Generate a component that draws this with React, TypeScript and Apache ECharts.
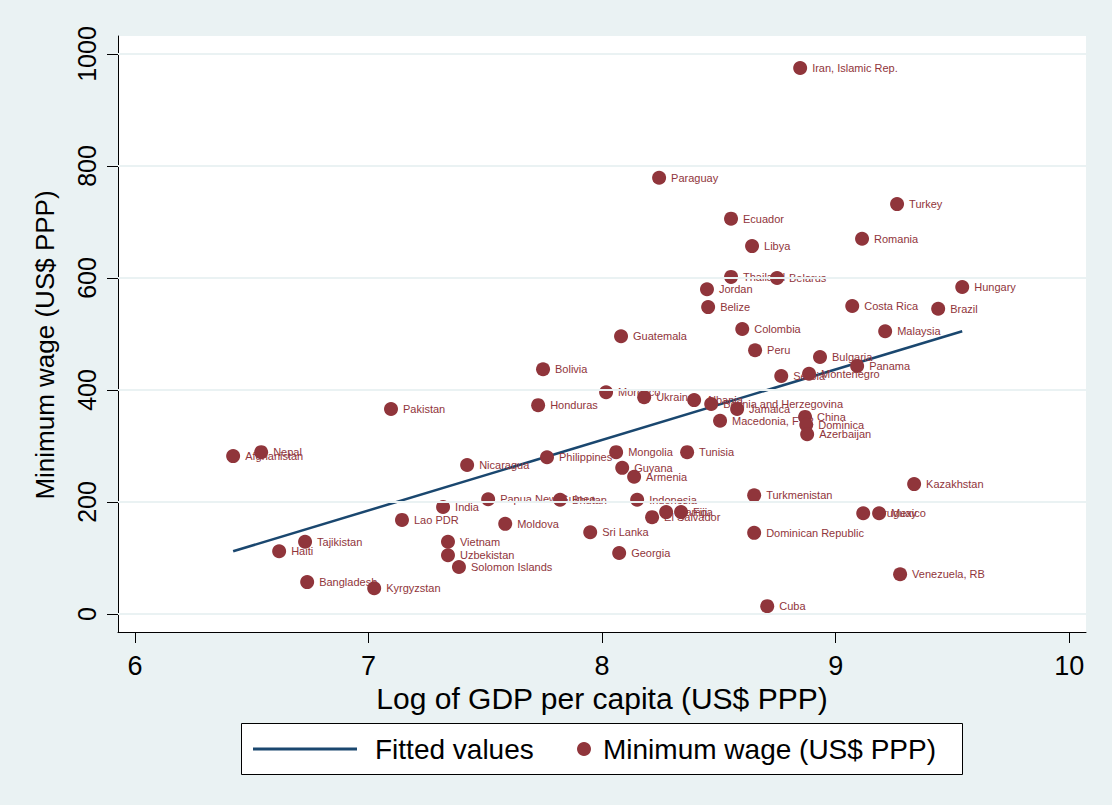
import React, { useEffect, useRef } from "react";
import * as echarts from "echarts";

// ---- Data ----
const countries = [
  "Iran, Islamic Rep.", "Paraguay", "Turkey", "Ecuador", "Romania", "Libya",
  "Thailand", "Belarus", "Jordan", "Hungary", "Belize", "Costa Rica", "Brazil",
  "Colombia", "Malaysia", "Guatemala", "Peru", "Bulgaria", "Panama", "Bolivia",
  "Serbia", "Montenegro", "Pakistan", "Morocco", "Ukraine", "Honduras", "Albania",
  "Bosnia and Herzegovina", "Jamaica", "Macedonia, FYR", "China", "Dominica",
  "Azerbaijan", "Afghanistan", "Nepal", "Nicaragua", "Philippines", "Mongolia",
  "Tunisia", "Guyana", "Armenia", "Kazakhstan", "Turkmenistan", "Papua New Guinea",
  "Bhutan", "Indonesia", "India", "Samoa", "Fiji", "El Salvador", "Uruguay",
  "Mexico", "Lao PDR", "Moldova", "Sri Lanka", "Dominican Republic", "Tajikistan",
  "Vietnam", "Haiti", "Uzbekistan", "Georgia", "Solomon Islands", "Venezuela, RB",
  "Bangladesh", "Kyrgyzstan", "Cuba",
];

const logGdp = [
  8.848, 8.244, 9.263, 8.552, 9.113, 8.642,
  8.552, 8.749, 8.449, 9.542, 8.454, 9.071, 9.439,
  8.600, 9.212, 8.081, 8.655, 8.933, 9.092, 7.747,
  8.767, 8.886, 7.096, 8.017, 8.180, 7.726, 8.394,
  8.467, 8.578, 8.505, 8.869, 8.874,
  8.878, 6.420, 6.540, 7.422, 7.764, 8.060,
  8.364, 8.086, 8.137, 9.336, 8.651, 7.512,
  7.820, 8.150, 7.319, 8.274, 8.338, 8.214, 9.118,
  9.186, 7.143, 7.585, 7.949, 8.651, 6.728,
  7.340, 6.617, 7.340, 8.073, 7.387, 9.276,
  6.737, 7.024, 8.707,
];

const minWage = [
  975, 779, 732, 706, 670, 657,
  602, 600, 580, 584, 548, 550, 545,
  509, 505, 496, 471, 459, 443, 437,
  425, 429, 366, 396, 387, 373, 382,
  375, 366, 345, 352, 338,
  321, 282, 289, 266, 280, 289,
  289, 261, 245, 232, 212, 205,
  204, 204, 191, 182, 182, 173, 180,
  180, 168, 161, 146, 145, 129,
  129, 112, 105, 109, 84, 71,
  57, 46, 14,
];

const fittedX = [6.42, 9.542];
const fittedY = [112, 505];

const xTicks = [6, 7, 8, 9, 10];
const yTicks = [0, 200, 400, 600, 800, 1000];

const seriesNames = ["Fitted values", "Minimum wage (US$ PPP)"];
const xTitle = "Log of GDP per capita (US$ PPP)";
const yTitle = "Minimum wage (US$ PPP)";

const FONT = "'Liberation Sans', Arial, Helvetica, sans-serif";
const MAROON = "#90353b";
const NAVY = "#1a476f";
const BG = "#eaf2f3";

export default function App() {
  const ref = useRef<HTMLDivElement>(null);

  useEffect(() => {
    if (!ref.current) return;
    const chart = echarts.init(ref.current, undefined, { renderer: "svg" });

    const scatterData = countries.map((name, i) => ({
      name,
      value: [logGdp[i], minWage[i]],
    }));
    const fittedData = fittedX.map((x, i) => [x, fittedY[i]]);

    chart.setOption({
      animation: false,
      backgroundColor: BG,
      textStyle: { fontFamily: FONT },
      grid: {
        left: 118,
        right: 26,
        top: 36,
        bottom: 173,
        show: true,
        backgroundColor: "#ffffff",
        borderWidth: 0,
        containLabel: false,
      },
      xAxis: {
        type: "value",
        min: 5.927,
        max: 10.072,
        name: xTitle,
        nameLocation: "middle",
        nameGap: 37,
        nameTextStyle: { fontSize: 30, color: "#000", fontFamily: FONT },
        axisLine: { show: true, onZero: false, lineStyle: { color: "#000", width: 1 } },
        axisTick: { show: true, length: 11, customValues: xTicks, lineStyle: { color: "#000" } },
        axisLabel: {
          customValues: xTicks,
          formatter: (v: number) => String(v),
          fontSize: 27,
          color: "#000",
          margin: 20,
          fontFamily: FONT,
        },
        splitLine: { show: false },
      },
      yAxis: {
        type: "value",
        min: -32.1,
        max: 1032.1,
        name: yTitle,
        nameLocation: "middle",
        nameGap: 60,
        nameTextStyle: {
          fontSize: 26,
          color: "#000",
          fontFamily: FONT,
          padding: [0, 22, 0, 0],
        },
        axisLine: { show: true, onZero: false, lineStyle: { color: "#000", width: 1 } },
        axisTick: { show: true, length: 11, customValues: yTicks, lineStyle: { color: "#000" } },
        axisLabel: {
          customValues: yTicks,
          formatter: (v: number) => String(v),
          rotate: 90,
          fontSize: 25,
          color: "#000",
          margin: 19,
          fontFamily: FONT,
        },
        splitLine: { show: false },
      },
      legend: [
        {
          data: [{ name: seriesNames[0], icon: "rect", itemStyle: { color: NAVY } }],
          left: 253,
          top: 733,
          padding: 0,
          itemWidth: 104,
          itemHeight: 3,
          textStyle: { fontSize: 28, color: "#000", fontFamily: FONT, padding: [0, 0, 0, 13], lineHeight: 32 },
        },
        {
          data: [{ name: seriesNames[1], icon: "circle" }],
          left: 577,
          top: 733,
          padding: 0,
          itemWidth: 14,
          itemHeight: 14,
          textStyle: { fontSize: 28, color: "#000", fontFamily: FONT, padding: [0, 0, 0, 7], lineHeight: 32 },
        },
      ],
      graphic: [
        {
          type: "rect",
          left: 241,
          top: 723,
          z: -1,
          shape: { width: 721, height: 51 },
          style: { fill: "#ffffff", stroke: "#000", lineWidth: 1 },
          silent: true,
        },
      ],
      series: [
        {
          name: "gridlines",
          type: "line",
          data: [],
          z: 1,
          silent: true,
          markLine: {
            silent: true,
            symbol: "none",
            label: { show: false },
            lineStyle: { color: BG, width: 2, type: "solid" },
            data: yTicks.map((v) => ({ yAxis: v })),
          },
        },
        {
          name: seriesNames[0],
          type: "line",
          data: fittedData,
          symbol: "none",
          showSymbol: false,
          z: 2,
          lineStyle: { color: NAVY, width: 2.5 },
          itemStyle: { color: NAVY },
        },
        {
          name: seriesNames[1],
          type: "scatter",
          data: scatterData,
          symbol: "circle",
          symbolSize: 14,
          z: 3,
          itemStyle: { color: MAROON, opacity: 1 },
          label: {
            show: true,
            position: "right",
            distance: 5,
            formatter: (p: any) => p.name,
            fontSize: 11,
            color: MAROON,
            fontFamily: FONT,
          },
          emphasis: { disabled: true },
        },
      ],
    });

    return () => {
      chart.dispose();
    };
  }, []);

  return (
    <div
      ref={ref}
      style={{ position: "fixed", left: 0, top: 0, width: 1112, height: 805 }}
    />
  );
}
